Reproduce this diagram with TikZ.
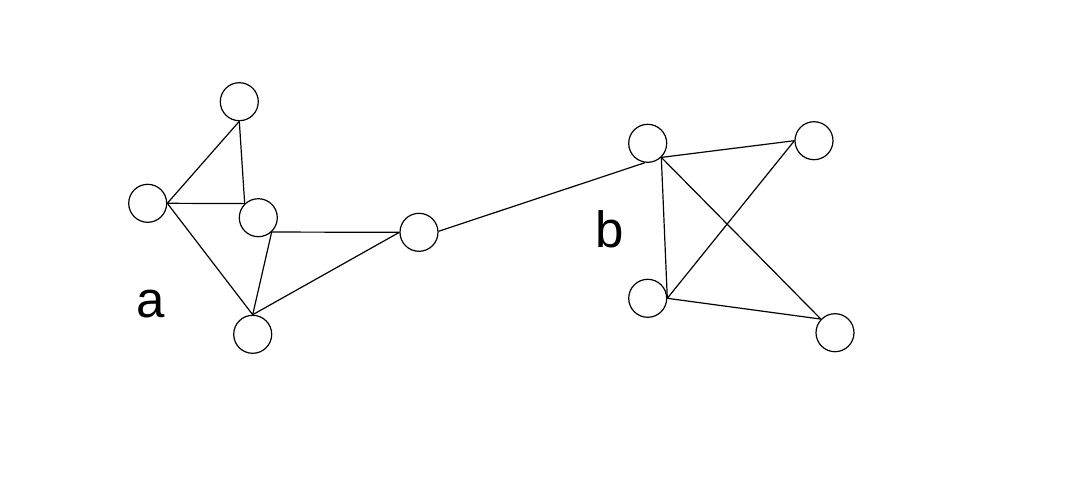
\documentclass[tikz,border=0pt]{standalone}
\usepackage{fontspec}
\setmainfont{Liberation Sans}
\begin{document}
\begin{tikzpicture}[x=1pt,y=-1pt,
  vtx/.style={circle,draw,line width=1.2pt,minimum size=38pt,inner sep=0pt},
  edge/.style={line width=1.2pt},
  lbl/.style={font=\fontsize{51}{60}\selectfont,anchor=base,inner sep=0pt}]
\useasboundingbox (0,0) rectangle (1080,483);
\node[vtx] (T) at (239.3,101.7) {};
\node[vtx] (L) at (147.7,203.3) {};
\node[vtx] (M) at (258.3,217.7) {};
\node[vtx] (B) at (252.7,334.3) {};
\node[vtx] (R) at (419,232.3) {};
\node[vtx] (b1) at (647.7,143.3) {};
\node[vtx] (b2) at (814,140.7) {};
\node[vtx] (b3) at (647.7,298.3) {};
\node[vtx] (b4) at (835,332.7) {};
\node[lbl] (la) at (151,317) {a};
\node[lbl] (lb) at (610,247) {b};
\draw[edge] (T.-90) -- (L.0);
\draw[edge] (T.-90) -- (M.134);
\draw[edge] (L.0) -- (M.134);
\draw[edge] (L.0) -- (B.90);
\draw[edge] (M.-47) -- (B.90);
\draw[edge] (M.-47) -- (R.180);
\draw[edge] (B.90) -- (R.180);
\draw[edge] (R.3) -- (b1.-98);
\draw[edge] (b1.-46) -- (b2.180);
\draw[edge] (b1.-46) -- (b3.0);
\draw[edge] (b1.-46) -- (b4.136);
\draw[edge] (b3.0) -- (b2.180);
\draw[edge] (b3.0) -- (b4.136);
\end{tikzpicture}
\end{document}
